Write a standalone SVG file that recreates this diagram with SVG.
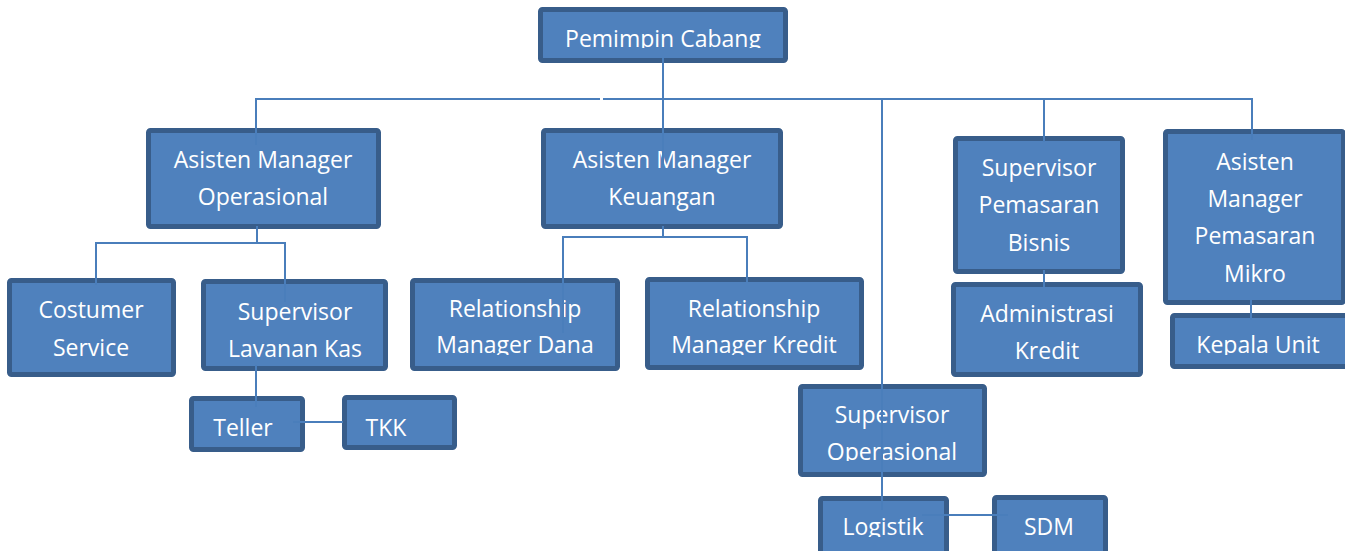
<svg xmlns="http://www.w3.org/2000/svg" width="1345" height="551" viewBox="0 0 1345 551">
<style>
.box{fill:#4F81BD;stroke:#385D8A;stroke-width:5}
.t{font-family:"Open Sans","Noto Sans",sans-serif;font-size:23px;fill:#FFFFFF;text-anchor:middle}
.c{stroke:#4A7EBB;stroke-width:2;fill:none}
</style>
<defs>
<clipPath id="clipTop"><rect x="0" y="0" width="1345" height="48"/></clipPath>
<clipPath id="clipRM"><rect x="0" y="0" width="1345" height="355"/></clipPath>
<clipPath id="clipSO"><rect x="0" y="0" width="1345" height="461"/></clipPath>
<clipPath id="clipLog"><rect x="0" y="0" width="1345" height="537"/></clipPath>
</defs>
<rect width="1345" height="551" fill="#FFFFFF"/>
<g id="pemimpin-cabang"><rect class="box" x="540.5" y="9.5" width="245" height="51" rx="2"/><text class="t" x="663" y="47" clip-path="url(#clipTop)">Pemimpin Cabang</text></g>
<g id="am-operasional"><rect class="box" x="148.5" y="130.5" width="230" height="96" rx="2"/><text class="t" x="263" y="168">Asisten Manager</text><text class="t" x="263" y="205">Operasional</text></g>
<g id="am-keuangan"><rect class="box" x="543.5" y="130.5" width="237" height="96" rx="2"/><text class="t" x="662" y="168">Asisten Manager</text><text class="t" x="662" y="205">Keuangan</text></g>
<g id="sup-pemasaran-bisnis"><rect class="box" x="955.5" y="138.5" width="167" height="133" rx="2"/><text class="t" x="1039" y="176">Supervisor</text><text class="t" x="1039" y="213">Pemasaran</text><text class="t" x="1039" y="251">Bisnis</text></g>
<g id="am-pemasaran-mikro"><rect class="box" x="1165.5" y="131.5" width="178" height="171" rx="2"/><text class="t" x="1255" y="170">Asisten</text><text class="t" x="1255" y="207">Manager</text><text class="t" x="1255" y="244">Pemasaran</text><text class="t" x="1255" y="282">Mikro</text></g>
<g id="costumer-service"><rect class="box" x="9.5" y="280.5" width="164" height="94" rx="2"/><text class="t" x="91" y="318">Costumer</text><text class="t" x="91" y="356">Service</text></g>
<g id="sup-lavanan-kas"><rect class="box" x="203.5" y="281.5" width="182" height="87" rx="2"/><text class="t" x="295" y="320">Supervisor</text><text class="t" x="295" y="357">Lavanan Kas</text></g>
<g id="rm-dana"><rect class="box" x="412.5" y="280.5" width="205" height="88" rx="2"/><text class="t" x="515" y="317">Relationship</text><text class="t" x="515" y="353" clip-path="url(#clipRM)">Manager Dana</text></g>
<g id="rm-kredit"><rect class="box" x="647.5" y="279.5" width="214" height="88" rx="2"/><text class="t" x="754" y="317">Relationship</text><text class="t" x="754" y="353" clip-path="url(#clipRM)">Manager Kredit</text></g>
<g id="administrasi-kredit"><rect class="box" x="953.5" y="284.5" width="187" height="90" rx="2"/><text class="t" x="1047" y="322">Administrasi</text><text class="t" x="1047" y="359">Kredit</text></g>
<g id="kepala-unit"><rect class="box" x="1172.5" y="315.5" width="175" height="51" rx="2"/><text class="t" x="1258" y="353" clip-path="url(#clipRM)">Kepala Unit</text></g>
<g id="teller"><rect class="box" x="191.5" y="398.5" width="111" height="51" rx="2"/><text class="t" x="243" y="436">Teller</text></g>
<g id="tkk"><rect class="box" x="344.5" y="397.5" width="110" height="50" rx="2"/><text class="t" x="386" y="436">TKK</text></g>
<g id="sup-operasional"><rect class="box" x="800.5" y="386.5" width="184" height="88" rx="2"/><text class="t" x="892" y="423">Supervisor</text><text class="t" x="892" y="460" clip-path="url(#clipSO)">Operasional</text></g>
<g id="logistik"><rect class="box" x="820.5" y="498.5" width="126" height="56" rx="2"/><text class="t" x="883" y="535" clip-path="url(#clipLog)">Logistik</text></g>
<g id="sdm"><rect class="box" x="994.5" y="497.5" width="111" height="56" rx="2"/><text class="t" x="1049" y="535">SDM</text></g>
<g id="connectors">
<line class="c" x1="663" y1="58" x2="663" y2="165"/>
<line class="c" x1="256" y1="99" x2="600" y2="99"/>
<line class="c" x1="603" y1="99" x2="1252" y2="99"/>
<line class="c" x1="256" y1="98" x2="256" y2="145"/>
<line class="c" x1="882" y1="98" x2="882" y2="510"/>
<line class="c" x1="1044" y1="98" x2="1044" y2="142"/>
<line class="c" x1="1252" y1="98" x2="1252" y2="140"/>
<line class="c" x1="257" y1="226" x2="257" y2="243"/>
<line class="c" x1="95" y1="243" x2="285" y2="243"/>
<line class="c" x1="96" y1="242" x2="96" y2="285"/>
<line class="c" x1="285" y1="242" x2="285" y2="302"/>
<line class="c" x1="256" y1="365" x2="256" y2="407"/>
<line class="c" x1="293" y1="422" x2="343" y2="422"/>
<line class="c" x1="663" y1="226" x2="663" y2="238"/>
<line class="c" x1="563" y1="237" x2="747" y2="237"/>
<line class="c" x1="563" y1="236" x2="563" y2="333"/>
<line class="c" x1="747" y1="236" x2="747" y2="282"/>
<line class="c" x1="1044" y1="270" x2="1044" y2="287"/>
<line class="c" x1="1251" y1="300" x2="1251" y2="320"/>
<line class="c" x1="922" y1="515" x2="1008" y2="515"/>
</g>
</svg>
